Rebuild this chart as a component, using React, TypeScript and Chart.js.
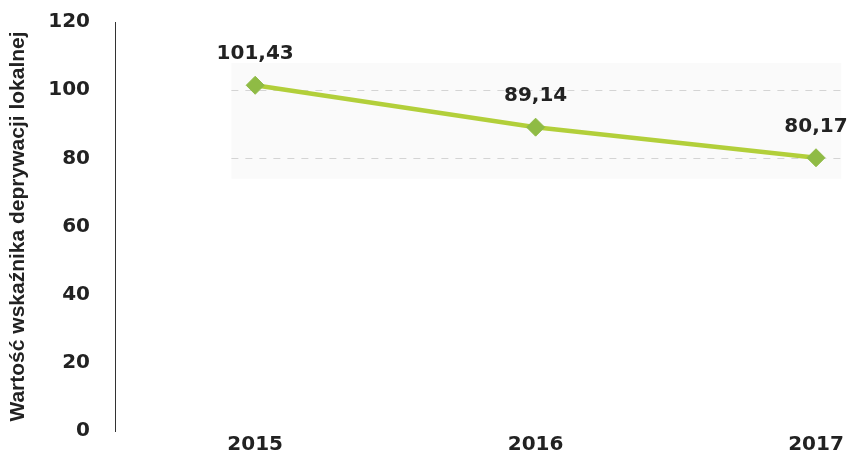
import React, { useEffect, useRef } from "react";
import { Chart, registerables } from "chart.js";

Chart.register(...registerables);

const years = [2015, 2016, 2017];
const values = [101.43, 89.14, 80.17];
const valueLabels = ["101,43", "89,14", "80,17"];
const yTicks = [0, 20, 40, 60, 80, 100, 120];
const gridValues = [80, 100];
const bandY = [74, 108];
const bandX = [2014.915, 2017.09];
const yTitle = "Wartość wskaźnika deprywacji lokalnej";

const bandPlugin = {
  id: "band",
  beforeDatasetsDraw(chart: any) {
    const { ctx, scales } = chart;
    const x = scales.x, y = scales.y;
    const x0 = x.getPixelForValue(bandX[0]);
    const x1 = x.getPixelForValue(bandX[1]);
    const y0 = y.getPixelForValue(bandY[1]);
    const y1 = y.getPixelForValue(bandY[0]);
    ctx.save();
    ctx.fillStyle = "#fafafa";
    ctx.fillRect(x0, y0, x1 - x0, y1 - y0);
    ctx.strokeStyle = "#d4d4d4";
    ctx.lineWidth = 1;
    ctx.setLineDash([7, 7]);
    gridValues.forEach((v) => {
      const py = Math.round(y.getPixelForValue(v)) + 0.5;
      ctx.beginPath();
      ctx.moveTo(x0, py);
      ctx.lineTo(x1, py);
      ctx.stroke();
    });
    ctx.restore();
  },
};

const labelPlugin = {
  id: "valueLabels",
  afterDatasetsDraw(chart: any) {
    const { ctx } = chart;
    const meta = chart.getDatasetMeta(0);
    ctx.save();
    ctx.font = "bold 20px 'DejaVu Sans'";
    ctx.fillStyle = "#222";
    ctx.textAlign = "center";
    ctx.textBaseline = "middle";
    meta.data.forEach((el: any, i: number) => {
      ctx.fillText(valueLabels[i], el.x, el.y - 31);
    });
    ctx.restore();
  },
};

export default function App() {
  const ref = useRef<HTMLCanvasElement>(null);
  useEffect(() => {
    if (!ref.current) return;
    const chart = new Chart(ref.current, {
      type: "line",
      data: {
        datasets: [
          {
            data: years.map((yr, i) => ({ x: yr, y: values[i] })),
            borderColor: "#b2cf3a",
            borderWidth: 4.5,
            pointStyle: "rectRot",
            pointRadius: 9,
            pointBackgroundColor: "#8fbb45",
            pointBorderColor: "#8fbb45",
            pointBorderWidth: 1,
            tension: 0,
          },
        ],
      },
      options: {
        animation: false,
        responsive: true,
        maintainAspectRatio: false,
        clip: false,
        layout: { padding: { top: 0, right: 32, bottom: 8, left: 6 } },
        plugins: { legend: { display: false }, tooltip: { enabled: false } },
        scales: {
          x: {
            type: "linear",
            min: 2014.5,
            max: 2017,
            afterBuildTicks: (s: any) => {
              s.ticks = years.map((v) => ({ value: v }));
            },
            grid: { display: false, drawTicks: false },
            border: { display: false },
            ticks: {
              padding: 2,
              color: "#222",
              font: { family: "'DejaVu Sans'", size: 20, weight: "bold" },
              callback: (v: any) => String(v),
            },
          },
          y: {
            min: 0,
            max: 120,
            afterBuildTicks: (s: any) => {
              s.ticks = yTicks.map((v) => ({ value: v }));
            },
            afterFit: (s: any) => {
              s.width = 109;
              s.paddingTop = 22;
              s.paddingBottom = 12;
            },
            grid: { display: false, drawTicks: false },
            border: { display: true, color: "#333", width: 1, dash: [1, 5] },
            ticks: {
              padding: 25,
              color: "#222",
              font: { family: "'DejaVu Sans'", size: 20, weight: "bold" },
            },
            title: {
              display: true,
              text: yTitle,
              color: "#222",
              padding: { top: 0, bottom: 0 },
              font: { family: "'Liberation Sans Narrow', 'Liberation Sans'", size: 21, weight: "bold" },
            },
          },
        },
      },
      plugins: [bandPlugin, labelPlugin],
    } as any);
    return () => chart.destroy();
  }, []);
  return (
    <div style={{ position: "fixed", left: 0, top: 0, width: 848, height: 467, background: "#fff" }}>
      <canvas ref={ref} />
    </div>
  );
}
